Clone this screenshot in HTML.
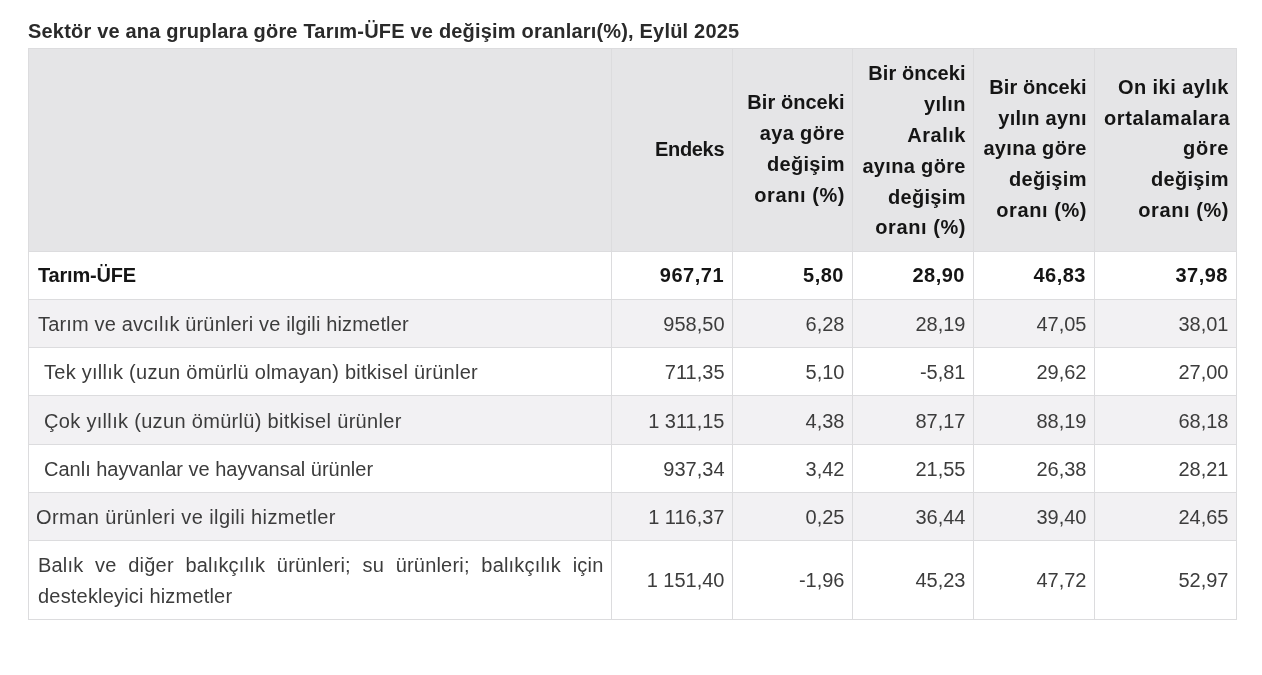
<!DOCTYPE html>
<html lang="tr">
<head>
<meta charset="utf-8">
<title>Tarım-ÜFE</title>
<style>
html,body{margin:0;padding:0;background:#ffffff;}
body{width:1262px;height:675px;overflow:hidden;position:relative;-webkit-font-smoothing:antialiased;font-family:"Liberation Sans",sans-serif;}
h1{will-change:transform;position:absolute;left:28px;top:16px;margin:0;font-size:20px;line-height:30.8px;font-weight:700;color:#2a2a2a;white-space:nowrap;letter-spacing:0.19px;}
table{will-change:transform;position:absolute;left:28px;top:48px;border-collapse:collapse;table-layout:fixed;width:1209px;font-size:20px;line-height:30.8px;color:#3c3c3c;}
td,th{border:1px solid #dcdcde;padding:0 7.5px 0 9px;vertical-align:middle;text-align:right;white-space:nowrap;}
th{background:#e5e5e7;color:#151515;font-weight:700;white-space:normal;}
tr.h{height:202.5px;}
tr.r{height:48.3px;}
tr.s td{background:#f2f1f3;}
tr.last{height:78.8px;}
td.l{text-align:left;letter-spacing:0px;}
td.i{padding-left:15px;}
tr.b td{font-weight:700;color:#151515;letter-spacing:0.5px;padding-right:8px;}
tr.r:not(.b) td{padding-top:2px;padding-bottom:0;}
td.j{padding-top:2px;padding-bottom:0;text-align:justify;white-space:normal;text-align-last:left;}
</style>
</head>
<body>
<h1>Sektör ve ana gruplara göre Tarım-ÜFE ve değişim oranları(%), Eylül 2025</h1>
<table>
<colgroup>
<col style="width:583px"><col style="width:121px"><col style="width:120px"><col style="width:121px"><col style="width:121px"><col style="width:142px">
</colgroup>
<tr class="h">
<th></th>
<th><span style="letter-spacing:-0.34px;margin-right:0.34px">Endeks</span></th>
<th><div style="position:relative;top:-1px"><span style="letter-spacing:0.05px;margin-right:-0.05px">Bir önceki</span><br><span style="letter-spacing:0.34px;margin-right:-0.34px">aya göre</span><br><span style="letter-spacing:0.33px;margin-right:-0.33px">değişim</span><br><span style="letter-spacing:0.58px;margin-right:-0.58px">oranı (%)</span></div></th>
<th><div style="position:relative;top:1px"><span style="letter-spacing:0.05px;margin-right:-0.05px">Bir önceki</span><br><span style="letter-spacing:0.35px;margin-right:-0.35px">yılın</span><br><span style="letter-spacing:0.54px;margin-right:-0.54px">Aralık</span><br><span style="letter-spacing:0.34px;margin-right:-0.34px">ayına göre</span><br><span style="letter-spacing:0.33px;margin-right:-0.33px">değişim</span><br><span style="letter-spacing:0.58px;margin-right:-0.58px">oranı (%)</span></div></th>
<th><div style="position:relative;top:-1px"><span style="letter-spacing:0.05px;margin-right:-0.05px">Bir önceki</span><br><span style="letter-spacing:0.3px;margin-right:-0.3px">yılın aynı</span><br><span style="letter-spacing:0.34px;margin-right:-0.34px">ayına göre</span><br><span style="letter-spacing:0.33px;margin-right:-0.33px">değişim</span><br><span style="letter-spacing:0.58px;margin-right:-0.58px">oranı (%)</span></div></th>
<th><div style="position:relative;top:-1px"><span style="letter-spacing:0.45px;margin-right:-0.45px">On iki aylık</span><br><span style="letter-spacing:0.6px;margin-right:-0.6px">ortalamalara</span><br><span style="letter-spacing:0.7px;margin-right:-0.7px">göre</span><br><span style="letter-spacing:0.33px;margin-right:-0.33px">değişim</span><br><span style="letter-spacing:0.58px;margin-right:-0.58px">oranı (%)</span></div></th>
</tr>
<tr class="r b">
<td class="l" style="letter-spacing:-0.2px;padding-right:7.5px">Tarım-ÜFE</td><td>967,71</td><td>5,80</td><td>28,90</td><td>46,83</td><td>37,98</td>
</tr>
<tr class="r s">
<td class="l" style="letter-spacing:0.164px">Tarım ve avcılık ürünleri ve ilgili hizmetler</td><td>958,50</td><td>6,28</td><td>28,19</td><td>47,05</td><td>38,01</td>
</tr>
<tr class="r">
<td class="l i" style="letter-spacing:0.26px">Tek yıllık (uzun ömürlü olmayan) bitkisel ürünler</td><td>711,35</td><td>5,10</td><td>-5,81</td><td>29,62</td><td>27,00</td>
</tr>
<tr class="r s">
<td class="l i" style="letter-spacing:0.32px">Çok yıllık (uzun ömürlü) bitkisel ürünler</td><td>1 311,15</td><td>4,38</td><td>87,17</td><td>88,19</td><td>68,18</td>
</tr>
<tr class="r">
<td class="l i">Canlı hayvanlar ve hayvansal ürünler</td><td>937,34</td><td>3,42</td><td>21,55</td><td>26,38</td><td>28,21</td>
</tr>
<tr class="r s">
<td class="l" style="letter-spacing:0.42px;text-indent:-2px">Orman ürünleri ve ilgili hizmetler</td><td>1 116,37</td><td>0,25</td><td>36,44</td><td>39,40</td><td>24,65</td>
</tr>
<tr class="last">
<td class="l j" style="letter-spacing:0.19px">Balık ve diğer balıkçılık ürünleri; su ürünleri; balıkçılık için destekleyici hizmetler</td><td>1 151,40</td><td>-1,96</td><td>45,23</td><td>47,72</td><td>52,97</td>
</tr>
</table>
</body>
</html>
